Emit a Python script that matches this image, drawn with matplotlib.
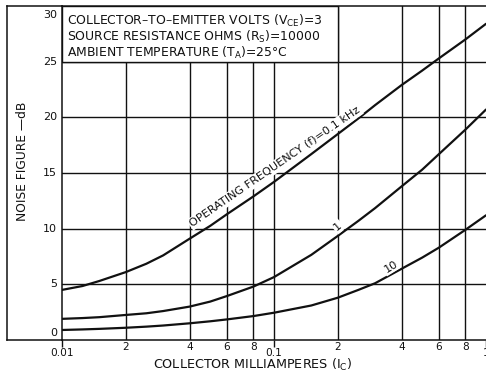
import matplotlib
matplotlib.use('Agg')
import matplotlib.pyplot as plt
from matplotlib.lines import Line2D
from matplotlib.patches import Rectangle
import matplotlib.transforms as mtransforms

# ---- data ----
collector_ma = [0.01, 0.0125, 0.015, 0.02, 0.025, 0.03, 0.04, 0.05, 0.06, 0.08, 0.1,
                0.15, 0.2, 0.25, 0.3, 0.4, 0.5, 0.6, 0.8, 1.0]
nf_01khz = [4.5, 4.85, 5.3, 6.1, 6.85, 7.6, 9.1, 10.25, 11.3, 12.9, 14.2,
            16.7, 18.5, 19.9, 21.1, 22.9, 24.2, 25.3, 27.0, 28.4]
nf_1khz = [1.9, 1.97, 2.05, 2.25, 2.4, 2.6, 3.0, 3.45, 3.95, 4.8, 5.65,
           7.65, 9.35, 10.7, 11.85, 13.8, 15.3, 16.7, 18.9, 20.7]
nf_10khz = [0.9, 0.95, 1.0, 1.1, 1.2, 1.3, 1.5, 1.68, 1.85, 2.15, 2.45,
            3.1, 3.8, 4.5, 5.1, 6.4, 7.4, 8.3, 9.9, 11.2]

x_grid = [0.02, 0.04, 0.06, 0.08, 0.1, 0.2, 0.4, 0.6, 0.8]
x_labels = {0.01: "0.01", 0.02: "2", 0.04: "4", 0.06: "6", 0.08: "8",
            0.1: "0.1", 0.2: "2", 0.4: "4", 0.6: "6", 0.8: "8", 1.0: "1"}
y_ticks = [0, 5, 10, 15, 20, 25, 30]

W, H = 486, 382
def fx(px):
    return px / W
def fy(py):
    return 1 - py / H

fig = plt.figure(figsize=(W / 100, H / 100), dpi=100)
ax = fig.add_axes([fx(62), fy(340), fx(486) - fx(62), fy(6) - fy(340)])
ax.set_xscale('log')
ax.set_xlim(0.01, 1.0)
ax.set_ylim(0, 30)

ink = '#111111'
lw_grid = 1.0
for gx in x_grid:
    ax.axvline(gx, color=ink, lw=lw_grid, zorder=0.5)
for gy in [5, 10, 15, 20, 25]:
    ax.axhline(gy, color=ink, lw=lw_grid, zorder=0.5)

for s in ['left', 'top', 'bottom']:
    ax.spines[s].set_linewidth(1.1)
    ax.spines[s].set_color(ink)
ax.spines['right'].set_visible(False)

# parameter box
ax.add_patch(Rectangle((0.01, 25), 0.2 - 0.01, 5, facecolor='white',
                       edgecolor=ink, lw=lw_grid, zorder=1))

# curves
for ys in (nf_01khz, nf_1khz, nf_10khz):
    ax.plot(collector_ma, ys, color=ink, lw=1.6, zorder=2,
            solid_capstyle='round', solid_joinstyle='round')

# ticks
ax.set_xticks([0.01, 0.1, 1.0])
ax.set_xticks([], minor=True)
ax.set_xticklabels([])
ax.set_yticks([])
ax.tick_params(axis='x', which='major', direction='out', length=5, width=1.0, color=ink)
ax.tick_params(axis='y', left=False)

fs = 7.6
# x tick labels
tx = mtransforms.blended_transform_factory(ax.transData, fig.transFigure)
for v, lab in x_labels.items():
    py = 353.5 if lab in ("0.01", "0.1", "1") else 346.5
    ax.text(v, fy(py), lab, transform=tx, ha='center', va='center',
            fontsize=fs, color=ink, clip_on=False)

# y tick labels
ty = mtransforms.blended_transform_factory(fig.transFigure, ax.transData)
for v in y_ticks:
    yy = v
    if v == 30:
        yy = 30 - 9 / 11.1
    elif v == 0:
        yy = 0 + 7 / 11.1
    ax.text(fx(57), yy, str(v), transform=ty, ha='right', va='center',
            fontsize=fs + 0.4, color=ink, clip_on=False)

# box text (one block)
box_lines = [
    r"COLLECTOR–TO–EMITTER VOLTS (V$_\mathregular{CE}$)=3",
    r"SOURCE RESISTANCE OHMS (R$_\mathregular{S}$)=10000",
    r"AMBIENT TEMPERATURE (T$_\mathregular{A}$)=25°C",
]
fig.text(fx(67), fy(13), "\n".join(box_lines), ha='left', va='top',
         fontsize=8.9, color=ink, zorder=5, linespacing=1.0)

# curve labels
bb = dict(facecolor='white', edgecolor='none', pad=1.0)
ax.text(0.1011, 15.55, "OPERATING FREQUENCY (f)=0.1 kHz", rotation=34.5,
        rotation_mode='anchor', ha='center', va='center', fontsize=8.1,
        color=ink, bbox=bb, zorder=3)
ax.text(0.2, 10.2, "1", rotation=40, rotation_mode='anchor', ha='center',
        va='center', fontsize=8.1, color=ink, bbox=bb, zorder=3)
ax.text(0.3556, 6.6, "10", rotation=32, rotation_mode='anchor', ha='center',
        va='center', fontsize=8.1, color=ink, bbox=bb, zorder=3)

# axis titles
fig.text(fx(22), fy(161), "NOISE FIGURE —dB", rotation=90, ha='center',
         va='center', fontsize=8.8, color=ink)
fig.text(fx(253), fy(369), r"COLLECTOR MILLIAMPERES (I$_\mathregular{C}$)",
         ha='center', va='baseline', fontsize=9.2, color=ink)

# outer frame
for (x0, y0, x1, y1) in [(7, 6, 62, 6), (7, 340, 62, 340), (7, 6, 7, 340)]:
    fig.add_artist(Line2D([fx(x0), fx(x1)], [fy(y0), fy(y1)], color=ink,
                          lw=1.1, transform=fig.transFigure))

fig.savefig('out.png', dpi=100)
